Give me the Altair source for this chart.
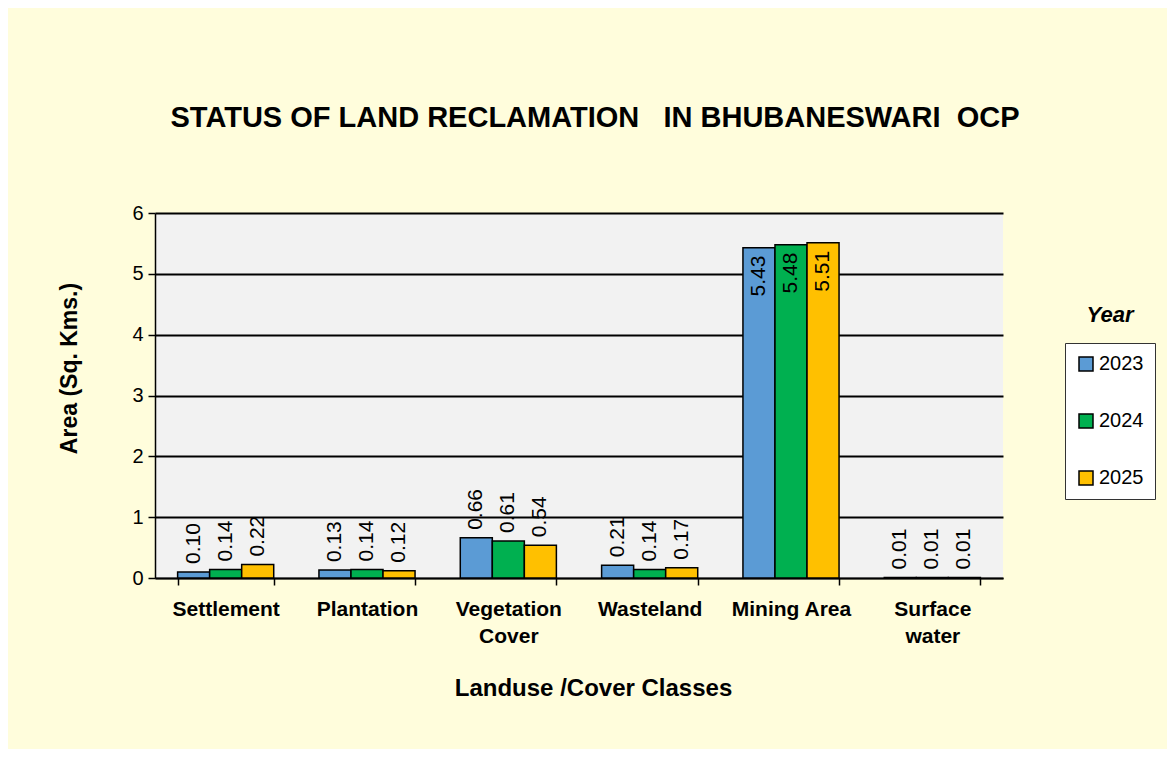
import altair as alt
import pandas as pd

categories = ["Settlement", "Plantation", "Vegetation Cover", "Wasteland", "Mining Area", "Surface water"]
years = ["2023", "2024", "2025"]
v2023 = [0.10, 0.13, 0.66, 0.21, 5.43, 0.01]
v2024 = [0.14, 0.14, 0.61, 0.14, 5.48, 0.01]
v2025 = [0.22, 0.12, 0.54, 0.17, 5.51, 0.01]
colors = ["#5B9BD5", "#00B050", "#FFC000"]
y_ticks = [0, 1, 2, 3, 4, 5, 6]

rows = []
for yr, vals in zip(years, [v2023, v2024, v2025]):
    for c, v in zip(categories, vals):
        rows.append({"Category": c, "Year": yr, "Area": v})
df = pd.DataFrame(rows)

FONT = "Liberation Sans"

x_enc = alt.X(
    "Category:N",
    sort=categories,
    scale=alt.Scale(paddingInner=0.32, paddingOuter=0.16),
    axis=alt.Axis(
        title="Landuse /Cover Classes",
        labelAngle=0,
        labelFont=FONT,
        labelFontSize=21,
        labelFontWeight="bold",
        labelColor="black",
        labelPadding=13,
        labelLineHeight=27,
        labelExpr="datum.value == 'Vegetation Cover' ? ['Vegetation', 'Cover'] : datum.value == 'Surface water' ? ['Surface', 'water'] : datum.label",
        tickBand="extent",
        tickColor="black",
        tickSize=7,
        tickWidth=1.5,
        domainColor="black",
        domainWidth=1.5,
        grid=False,
        titleFont=FONT,
        titleFontSize=24,
        titleFontWeight="bold",
        titleColor="black",
        titleX=438,
        titleY=110,
        titleBaseline="middle",
    ),
)
xoff_enc = alt.XOffset("Year:N", sort=years, scale=alt.Scale(paddingInner=0, paddingOuter=0))
y_enc = alt.Y(
    "Area:Q",
    scale=alt.Scale(domain=[0, 6], nice=False),
    axis=alt.Axis(
        title="Area (Sq. Kms.)",
        values=y_ticks,
        format="d",
        labelFont=FONT,
        labelFontSize=20,
        labelColor="black",
        labelPadding=5,
        tickColor="black",
        tickSize=7,
        tickWidth=1.5,
        domainColor="black",
        domainWidth=1.5,
        grid=True,
        gridColor="black",
        gridWidth=2,
        titleFont=FONT,
        titleFontSize=23,
        titleFontWeight="bold",
        titleColor="black",
        titleX=-86,
        titleY=155,
        titleBaseline="middle",
    ),
)
color_enc = alt.Color(
    "Year:N",
    sort=years,
    scale=alt.Scale(domain=years, range=colors),
    legend=alt.Legend(
        title=None,
        orient="none",
        legendX=910,
        legendY=130,
        padding=11,
        rowPadding=37,
        symbolType="square",
        symbolSize=196,
        symbolStrokeColor="black",
        symbolStrokeWidth=1.5,
        symbolOpacity=1,
        labelFont=FONT,
        labelFontSize=20,
        labelColor="black",
        labelOffset=3,
        strokeColor="#333333",
        fillColor="white",
    ),
)

base = alt.Chart(df).encode(x=x_enc, xOffset=xoff_enc, y=y_enc)

bars = base.mark_bar(stroke="black", strokeWidth=1.5, opacity=1).encode(color=color_enc)

labels_out = base.transform_filter("datum.Area < 1").mark_text(
    angle=270, align="left", baseline="middle", dx=8, font=FONT, fontSize=21, color="black"
).encode(text=alt.Text("Area:Q", format=".2f"))

labels_in = base.transform_filter("datum.Area >= 1").mark_text(
    angle=270, align="right", baseline="middle", dx=-8, font=FONT, fontSize=21, color="black"
).encode(text=alt.Text("Area:Q", format=".2f"))

year_title = alt.Chart(pd.DataFrame({"t": ["Year"]})).mark_text(
    font=FONT, fontSize=22, fontWeight="bold", fontStyle="italic", color="black",
    align="center", baseline="middle"
).encode(x=alt.value(955), y=alt.value(102), text="t:N")

chart = alt.layer(bars, labels_out, labels_in, year_title).properties(
    width=848,
    height=365,
    title=alt.TitleParams(
        text="STATUS OF LAND RECLAMATION\u00a0\u00a0 IN BHUBANESWARI\u00a0 OCP",
        font=FONT,
        fontSize=29,
        fontWeight="bold",
        color="black",
        anchor="middle",
        dx=16,
        offset=70,
    ),
    autosize=alt.AutoSizeParams(type="none"),
    padding={"left": 147, "top": 205, "right": 164, "bottom": 171},
).configure(
    background="#FFFDDC",
).configure_view(
    fill="#F2F2F2",
    stroke=None,
)

chart.save("out.html", embed_options={"renderer": "svg", "actions": False})
